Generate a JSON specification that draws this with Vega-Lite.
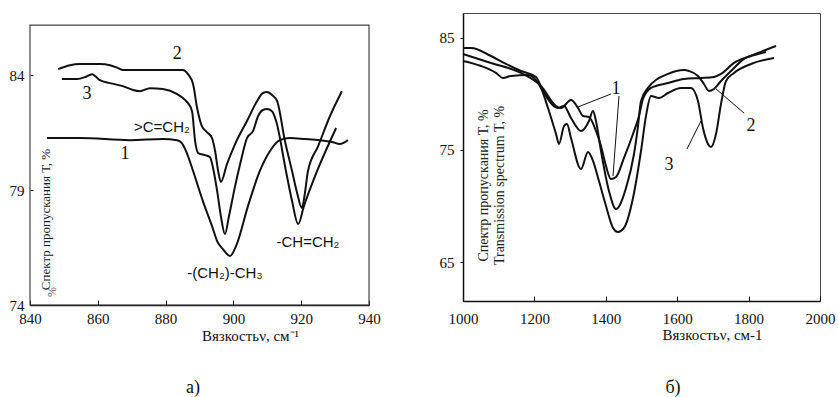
{
  "$schema": "https://vega.github.io/schema/vega-lite/v6.json",
  "background": "white",
  "padding": {"left": 9, "top": 12, "right": 0, "bottom": 0},
  "spacing": 57,
  "config": {
    "font": "Liberation Serif",
    "view": {"stroke": "#444", "strokeWidth": 1},
    "axis": {"grid": false, "domainColor": "#111", "tickColor": "#111", "labelColor": "#111", "titleColor": "#111", "labelFont": "Liberation Serif", "titleFont": "Liberation Serif", "titleFontWeight": "normal", "labelFlush": false, "labelOverlap": false, "domainWidth": 1.5}
  },
  "datasets": {
    "left": [
      {"x": 845.0, "y": 81.26, "s": "1"}, {"x": 854.7, "y": 81.26, "s": "1"}, {"x": 869.5, "y": 81.17, "s": "1"}, {"x": 879.2, "y": 81.22, "s": "1"}, {"x": 883.4, "y": 81.17, "s": "1"}, {"x": 884.8, "y": 81.04, "s": "1"}, {"x": 886.0, "y": 80.70, "s": "1"}, {"x": 888.1, "y": 79.83, "s": "1"}, {"x": 891.0, "y": 78.52, "s": "1"}, {"x": 893.7, "y": 77.43, "s": "1"}, {"x": 895.2, "y": 76.78, "s": "1"}, {"x": 896.9, "y": 76.43, "s": "1"}, {"x": 899.0, "y": 76.13, "s": "1"}, {"x": 900.8, "y": 76.57, "s": "1"}, {"x": 904.3, "y": 78.30, "s": "1"}, {"x": 907.8, "y": 79.83, "s": "1"}, {"x": 910.8, "y": 80.70, "s": "1"}, {"x": 913.7, "y": 81.17, "s": "1"}, {"x": 916.7, "y": 81.26, "s": "1"}, {"x": 921.1, "y": 81.22, "s": "1"}, {"x": 925.5, "y": 81.17, "s": "1"}, {"x": 929.1, "y": 81.09, "s": "1"}, {"x": 931.4, "y": 81.00, "s": "1"}, {"x": 933.8, "y": 81.17, "s": "1"},
      {"x": 848.3, "y": 84.26, "s": "2"}, {"x": 851.8, "y": 84.43, "s": "2"}, {"x": 854.7, "y": 84.48, "s": "2"}, {"x": 860.6, "y": 84.48, "s": "2"}, {"x": 863.6, "y": 84.43, "s": "2"}, {"x": 866.0, "y": 84.30, "s": "2"}, {"x": 867.4, "y": 84.22, "s": "2"}, {"x": 875.4, "y": 84.22, "s": "2"}, {"x": 881.3, "y": 84.22, "s": "2"}, {"x": 885.1, "y": 84.22, "s": "2"}, {"x": 886.6, "y": 84.04, "s": "2"}, {"x": 888.1, "y": 83.61, "s": "2"}, {"x": 889.3, "y": 82.57, "s": "2"}, {"x": 890.7, "y": 81.78, "s": "2"}, {"x": 892.2, "y": 81.52, "s": "2"}, {"x": 893.7, "y": 81.26, "s": "2"}, {"x": 894.6, "y": 80.70, "s": "2"}, {"x": 895.5, "y": 79.83, "s": "2"}, {"x": 896.3, "y": 79.35, "s": "2"}, {"x": 898.1, "y": 80.13, "s": "2"}, {"x": 900.5, "y": 81.00, "s": "2"}, {"x": 904.0, "y": 82.00, "s": "2"}, {"x": 907.0, "y": 82.87, "s": "2"}, {"x": 908.7, "y": 83.22, "s": "2"}, {"x": 909.9, "y": 83.26, "s": "2"}, {"x": 911.4, "y": 83.13, "s": "2"}, {"x": 912.9, "y": 82.87, "s": "2"}, {"x": 915.2, "y": 81.13, "s": "2"}, {"x": 917.3, "y": 79.83, "s": "2"}, {"x": 918.8, "y": 78.87, "s": "2"}, {"x": 920.2, "y": 78.22, "s": "2"}, {"x": 921.1, "y": 78.87, "s": "2"}, {"x": 922.0, "y": 79.83, "s": "2"}, {"x": 925.0, "y": 80.91, "s": "2"}, {"x": 928.5, "y": 82.22, "s": "2"}, {"x": 932.0, "y": 83.30, "s": "2"},
      {"x": 849.4, "y": 83.83, "s": "3"}, {"x": 853.9, "y": 83.83, "s": "3"}, {"x": 856.2, "y": 83.91, "s": "3"}, {"x": 858.3, "y": 84.04, "s": "3"}, {"x": 860.6, "y": 83.78, "s": "3"}, {"x": 863.6, "y": 83.65, "s": "3"}, {"x": 867.4, "y": 83.52, "s": "3"}, {"x": 870.4, "y": 83.35, "s": "3"}, {"x": 872.4, "y": 83.30, "s": "3"}, {"x": 875.4, "y": 83.43, "s": "3"}, {"x": 879.2, "y": 83.39, "s": "3"}, {"x": 883.4, "y": 83.17, "s": "3"}, {"x": 885.1, "y": 83.00, "s": "3"}, {"x": 886.6, "y": 82.78, "s": "3"}, {"x": 887.8, "y": 82.43, "s": "3"}, {"x": 888.7, "y": 81.13, "s": "3"}, {"x": 889.6, "y": 80.61, "s": "3"}, {"x": 891.6, "y": 80.52, "s": "3"}, {"x": 893.1, "y": 80.43, "s": "3"}, {"x": 894.0, "y": 79.96, "s": "3"}, {"x": 895.2, "y": 78.96, "s": "3"}, {"x": 896.3, "y": 77.87, "s": "3"}, {"x": 897.5, "y": 77.09, "s": "3"}, {"x": 898.7, "y": 77.87, "s": "3"}, {"x": 900.5, "y": 79.17, "s": "3"}, {"x": 902.2, "y": 80.26, "s": "3"}, {"x": 904.0, "y": 81.26, "s": "3"}, {"x": 905.8, "y": 81.57, "s": "3"}, {"x": 907.3, "y": 82.22, "s": "3"}, {"x": 908.7, "y": 82.48, "s": "3"}, {"x": 909.9, "y": 82.52, "s": "3"}, {"x": 911.4, "y": 82.43, "s": "3"}, {"x": 912.6, "y": 82.00, "s": "3"}, {"x": 915.5, "y": 79.83, "s": "3"}, {"x": 917.3, "y": 78.52, "s": "3"}, {"x": 919.1, "y": 77.52, "s": "3"}, {"x": 920.8, "y": 78.30, "s": "3"}, {"x": 924.7, "y": 79.83, "s": "3"}, {"x": 930.3, "y": 81.70, "s": "3"}
    ],
    "right": [
      {"x": 1000, "y": 83.57, "s": "1"}, {"x": 1078.4, "y": 82.77, "s": "1"}, {"x": 1162.5, "y": 81.88, "s": "1"}, {"x": 1218.5, "y": 80.71, "s": "1"}, {"x": 1260.5, "y": 78.93, "s": "1"}, {"x": 1274.5, "y": 78.75, "s": "1"}, {"x": 1302.5, "y": 79.46, "s": "1"}, {"x": 1322.1, "y": 78.75, "s": "1"}, {"x": 1336.1, "y": 78.04, "s": "1"}, {"x": 1352.9, "y": 77.95, "s": "1"}, {"x": 1372.5, "y": 76.70, "s": "1"}, {"x": 1386.5, "y": 75.36, "s": "1"}, {"x": 1400.5, "y": 73.57, "s": "1"}, {"x": 1414.5, "y": 72.41, "s": "1"}, {"x": 1428.6, "y": 72.59, "s": "1"}, {"x": 1451.0, "y": 74.29, "s": "1"}, {"x": 1476.2, "y": 76.43, "s": "1"}, {"x": 1493.0, "y": 78.04, "s": "1"}, {"x": 1504.2, "y": 79.55, "s": "1"}, {"x": 1526.6, "y": 80.54, "s": "1"}, {"x": 1574.2, "y": 80.98, "s": "1"}, {"x": 1619.0, "y": 81.34, "s": "1"}, {"x": 1666.6, "y": 81.43, "s": "1"}, {"x": 1703.1, "y": 81.52, "s": "1"}, {"x": 1722.7, "y": 81.79, "s": "1"}, {"x": 1759.1, "y": 82.77, "s": "1"}, {"x": 1806.7, "y": 83.39, "s": "1"}, {"x": 1848.7, "y": 83.75, "s": "1"},
      {"x": 1000, "y": 84.11, "s": "2"}, {"x": 1022.4, "y": 84.11, "s": "2"}, {"x": 1078.4, "y": 83.39, "s": "2"}, {"x": 1120.4, "y": 82.68, "s": "2"}, {"x": 1162.5, "y": 82.05, "s": "2"}, {"x": 1204.5, "y": 81.52, "s": "2"}, {"x": 1224.1, "y": 80.27, "s": "2"}, {"x": 1266.1, "y": 78.75, "s": "2"}, {"x": 1282.9, "y": 78.93, "s": "2"}, {"x": 1302.5, "y": 77.86, "s": "2"}, {"x": 1330.5, "y": 76.70, "s": "2"}, {"x": 1352.9, "y": 77.59, "s": "2"}, {"x": 1364.1, "y": 78.48, "s": "2"}, {"x": 1372.5, "y": 77.59, "s": "2"}, {"x": 1386.5, "y": 74.91, "s": "2"}, {"x": 1408.9, "y": 71.34, "s": "2"}, {"x": 1428.6, "y": 69.73, "s": "2"}, {"x": 1456.6, "y": 71.61, "s": "2"}, {"x": 1479.0, "y": 74.64, "s": "2"}, {"x": 1490.2, "y": 77.14, "s": "2"}, {"x": 1498.6, "y": 79.38, "s": "2"}, {"x": 1518.2, "y": 80.54, "s": "2"}, {"x": 1574.2, "y": 81.79, "s": "2"}, {"x": 1619.0, "y": 82.14, "s": "2"}, {"x": 1633.0, "y": 82.05, "s": "2"}, {"x": 1658.2, "y": 81.61, "s": "2"}, {"x": 1675.0, "y": 80.89, "s": "2"}, {"x": 1689.0, "y": 80.27, "s": "2"}, {"x": 1703.1, "y": 80.45, "s": "2"}, {"x": 1722.7, "y": 81.16, "s": "2"}, {"x": 1750.7, "y": 82.05, "s": "2"}, {"x": 1787.1, "y": 83.13, "s": "2"}, {"x": 1826.3, "y": 83.66, "s": "2"}, {"x": 1876.7, "y": 84.29, "s": "2"},
      {"x": 1000, "y": 82.95, "s": "3"}, {"x": 1050.4, "y": 82.50, "s": "3"}, {"x": 1092.4, "y": 81.88, "s": "3"}, {"x": 1112.0, "y": 81.43, "s": "3"}, {"x": 1134.4, "y": 81.61, "s": "3"}, {"x": 1182.1, "y": 81.70, "s": "3"}, {"x": 1218.5, "y": 80.54, "s": "3"}, {"x": 1238.1, "y": 78.75, "s": "3"}, {"x": 1260.5, "y": 76.43, "s": "3"}, {"x": 1268.9, "y": 75.54, "s": "3"}, {"x": 1283.0, "y": 77.14, "s": "3"}, {"x": 1291.3, "y": 77.32, "s": "3"}, {"x": 1302.5, "y": 76.07, "s": "3"}, {"x": 1330.5, "y": 73.30, "s": "3"}, {"x": 1350.1, "y": 74.82, "s": "3"}, {"x": 1364.1, "y": 74.02, "s": "3"}, {"x": 1380.9, "y": 72.23, "s": "3"}, {"x": 1400.5, "y": 70.00, "s": "3"}, {"x": 1420.2, "y": 68.04, "s": "3"}, {"x": 1434.2, "y": 67.68, "s": "3"}, {"x": 1451.0, "y": 68.04, "s": "3"}, {"x": 1476.2, "y": 70.71, "s": "3"}, {"x": 1498.6, "y": 74.91, "s": "3"}, {"x": 1512.6, "y": 78.04, "s": "3"}, {"x": 1526.6, "y": 79.82, "s": "3"}, {"x": 1549.0, "y": 79.64, "s": "3"}, {"x": 1574.2, "y": 80.09, "s": "3"}, {"x": 1610.6, "y": 80.54, "s": "3"}, {"x": 1638.6, "y": 80.54, "s": "3"}, {"x": 1658.2, "y": 79.38, "s": "3"}, {"x": 1672.2, "y": 76.96, "s": "3"}, {"x": 1686.2, "y": 75.54, "s": "3"}, {"x": 1694.6, "y": 75.27, "s": "3"}, {"x": 1708.7, "y": 76.43, "s": "3"}, {"x": 1722.7, "y": 79.11, "s": "3"}, {"x": 1736.7, "y": 81.16, "s": "3"}, {"x": 1759.1, "y": 81.88, "s": "3"}, {"x": 1806.7, "y": 82.68, "s": "3"}, {"x": 1871.1, "y": 83.21, "s": "3"}
    ]
  },
  "hconcat": [
    {
      "width": 339,
      "height": 292,
      "view": {"stroke": null},
      "layer": [
        {
          "data": {"values": [{"x": 840, "x2": 940, "y": 74, "y2": 86.17}]},
          "mark": {"type": "rect", "filled": false, "color": "#444", "strokeWidth": 1.2},
          "encoding": {
            "x": {"field": "x", "type": "quantitative", "scale": {"domain": [840, 940], "nice": false, "zero": false},
              "axis": {"values": [840, 850, 860, 870, 880, 890, 900, 910, 920, 930, 940], "labelExpr": "datum.value % 20 === 0 ? datum.label : ''", "tickSize": -5, "labelPadding": 11, "labelFontSize": 15, "title": "Вязкостьν, см⁻¹", "titleFontSize": 15, "titleX": 220, "titleY": 30, "titleBaseline": "middle"}},
            "x2": {"field": "x2"},
            "y": {"field": "y", "type": "quantitative", "scale": {"domain": [74, 86.7], "nice": false, "zero": false},
              "axis": {"values": [74, 79, 84], "domain": false, "tickSize": -3, "labelPadding": 9, "labelFontSize": 15, "title": "Спектр пропускания Т, %", "titleFontSize": 13, "titleAngle": 270, "titleX": 15, "titleY": 206, "titleBaseline": "middle", "titleAlign": "center", "titleColor": "#222"}},
            "y2": {"field": "y2"}
          }
        },
        {
          "data": {"name": "left"},
          "mark": {"type": "line", "interpolate": "monotone", "color": "#111", "strokeWidth": 2},
          "encoding": {
            "x": {"field": "x", "type": "quantitative"},
            "y": {"field": "y", "type": "quantitative"},
            "detail": {"field": "s"}
          }
        },
        {
          "data": {"values": [{"x": 883.4, "y": 84.91, "t": "2"}, {"x": 856.8, "y": 83.17, "t": "3"}, {"x": 868.0, "y": 80.57, "t": "1"}, {"x": 888.1, "y": 70.39, "t": "а)"}]},
          "mark": {"type": "text", "font": "Liberation Serif", "fontSize": 18, "color": "#111"},
          "encoding": {"x": {"field": "x", "type": "quantitative"}, "y": {"field": "y", "type": "quantitative"}, "text": {"field": "t"}}
        },
        {
          "data": {"values": [{"x": 878.9, "y": 81.74, "t": ">C=CH₂"}, {"x": 897.5, "y": 75.39, "t": "-(CH₂)-CH₃"}, {"x": 922.0, "y": 76.74, "t": "-CH=CH₂"}]},
          "mark": {"type": "text", "font": "Liberation Sans", "fontSize": 15, "color": "#111"},
          "encoding": {"x": {"field": "x", "type": "quantitative"}, "y": {"field": "y", "type": "quantitative"}, "text": {"field": "t"}}
        },
        {
          "data": {"values": [{"x": 846.5, "y": 74.57, "t": "%"}]},
          "mark": {"type": "text", "font": "Liberation Serif", "fontSize": 12, "angle": 270, "color": "#555"},
          "encoding": {"x": {"field": "x", "type": "quantitative"}, "y": {"field": "y", "type": "quantitative"}, "text": {"field": "t"}}
        }
      ]
    },
    {
      "width": 357,
      "height": 288,
      "layer": [
        {
          "data": {"name": "right"},
          "mark": {"type": "line", "interpolate": "monotone", "color": "#111", "strokeWidth": 2},
          "encoding": {
            "x": {"field": "x", "type": "quantitative", "scale": {"domain": [1000, 2000], "nice": false, "zero": false},
              "axis": {"values": [1000, 1200, 1400, 1600, 1800, 2000], "format": "d", "tickSize": -5, "labelPadding": 15, "labelFontSize": 15, "title": "Вязкостьν, см-1", "titleFontSize": 15, "titleX": 249, "titleY": 33, "titleBaseline": "middle"}},
            "y": {"field": "y", "type": "quantitative", "scale": {"domain": [61.52, 87.23], "nice": false, "zero": false},
              "axis": {"values": [65, 75, 85], "tickSize": 3, "labelPadding": 6, "labelFontSize": 15, "title": ["Спектр пропускания Т, %", "Transmission spectrum T, %"], "titleFontSize": 14, "titleLineHeight": 16, "titleAngle": 270, "titleX": 20, "titleY": 172, "titleBaseline": "middle", "titleAlign": "center", "titleColor": "#222"}},
            "detail": {"field": "s"}
          }
        },
        {
          "data": {"values": [{"x": 1414.5, "y": 80.0, "x2": 1322.1, "y2": 78.84}, {"x": 1437.0, "y": 79.82, "x2": 1420.2, "y2": 72.68}, {"x": 1787.1, "y": 78.30, "x2": 1708.7, "y2": 80.45}, {"x": 1627.4, "y": 75.09, "x2": 1666.6, "y2": 77.59}]},
          "mark": {"type": "rule", "color": "#111", "strokeWidth": 1},
          "encoding": {"x": {"field": "x", "type": "quantitative"}, "y": {"field": "y", "type": "quantitative"}, "x2": {"field": "x2"}, "y2": {"field": "y2"}}
        },
        {
          "data": {"values": [{"x": 1428.6, "y": 80.45, "t": "1"}, {"x": 1806.7, "y": 77.14, "t": "2"}, {"x": 1577.0, "y": 73.66, "t": "3"}, {"x": 1588.2, "y": 53.75, "t": "б)"}]},
          "mark": {"type": "text", "font": "Liberation Serif", "fontSize": 18, "color": "#111"},
          "encoding": {"x": {"field": "x", "type": "quantitative"}, "y": {"field": "y", "type": "quantitative"}, "text": {"field": "t"}}
        }
      ]
    }
  ]
}
